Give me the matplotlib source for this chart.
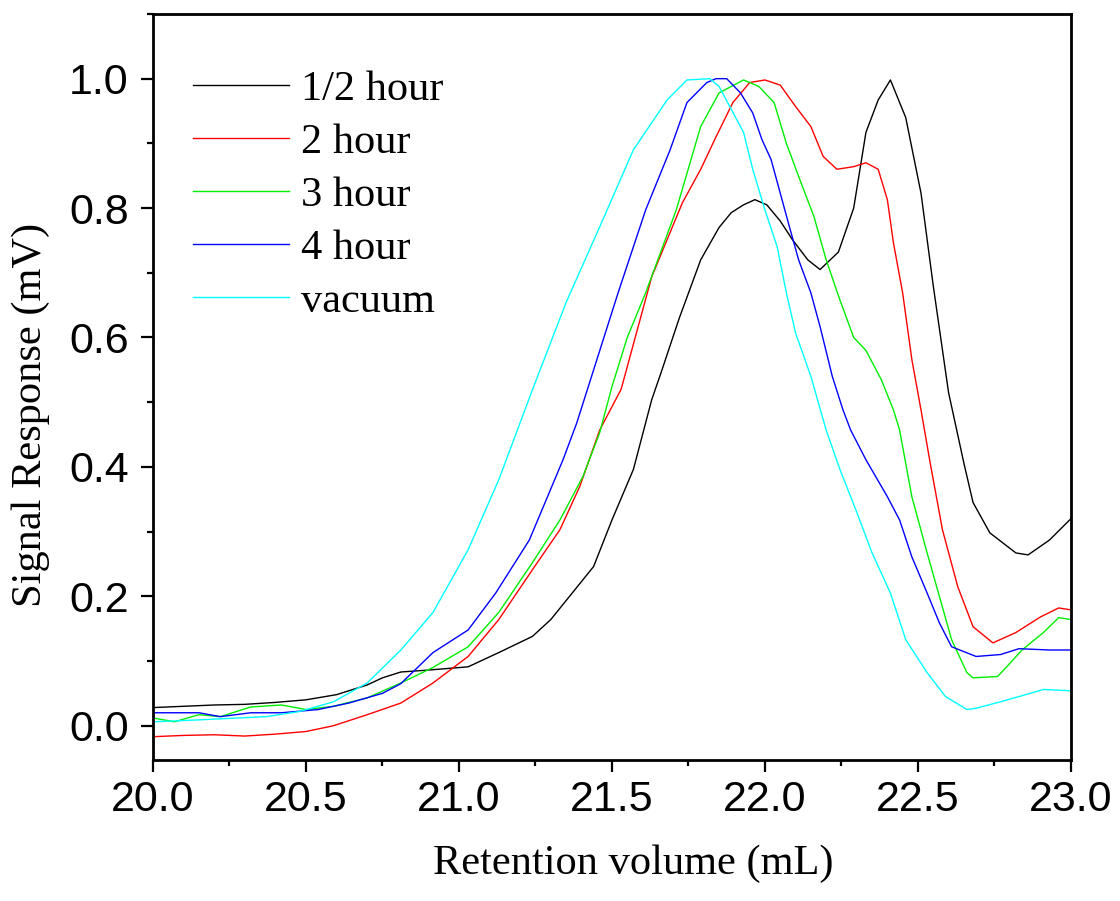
import matplotlib
matplotlib.use("Agg")
import matplotlib.pyplot as plt
from matplotlib.ticker import MultipleLocator

# GPC traces
x_half = [20.00, 20.10, 20.20, 20.30, 20.40, 20.50, 20.60, 20.70, 20.75, 20.81, 20.90, 21.03,
          21.13, 21.24, 21.30, 21.37, 21.44, 21.50, 21.57, 21.63, 21.66, 21.72, 21.79, 21.85,
          21.89, 21.93, 21.967, 22.006, 22.05, 22.09, 22.14, 22.18, 22.24, 22.29, 22.33, 22.37,
          22.41, 22.46, 22.51, 22.55, 22.60, 22.65, 22.68, 22.735, 22.82, 22.86, 22.93, 23.00]
y_half = [0.028, 0.030, 0.032, 0.033, 0.036, 0.040, 0.048, 0.063, 0.074, 0.083, 0.086, 0.091,
          0.113, 0.138, 0.164, 0.205, 0.246, 0.318, 0.396, 0.504, 0.545, 0.63, 0.72, 0.77,
          0.793, 0.805, 0.813, 0.805, 0.78, 0.751, 0.72, 0.705, 0.732, 0.80, 0.917, 0.967,
          0.998, 0.94, 0.823, 0.68, 0.515, 0.406, 0.345, 0.298, 0.267, 0.264, 0.287, 0.32]

x_2h = [20.00, 20.10, 20.20, 20.30, 20.40, 20.50, 20.59, 20.70, 20.81, 20.915, 21.03, 21.13,
        21.24, 21.33, 21.395, 21.46, 21.53, 21.63, 21.73, 21.79, 21.84, 21.895, 21.95, 22.00,
        22.05, 22.10, 22.15, 22.19, 22.235, 22.29, 22.33, 22.37, 22.40, 22.42, 22.45, 22.48,
        22.51, 22.54, 22.58, 22.63, 22.68, 22.745, 22.82, 22.90, 22.96, 23.00]
y_2h = [-0.017, -0.015, -0.014, -0.016, -0.013, -0.009, 0.000, 0.017, 0.035, 0.066, 0.107, 0.164,
        0.241, 0.303, 0.37, 0.457, 0.52, 0.694, 0.808, 0.86, 0.91, 0.963, 0.994, 0.998,
        0.99, 0.957, 0.926, 0.88, 0.86, 0.864, 0.87, 0.86, 0.813, 0.746, 0.669, 0.566,
        0.488, 0.406, 0.303, 0.215, 0.153, 0.128, 0.144, 0.168, 0.182, 0.179]

x_3h = [20.00, 20.07, 20.15, 20.22, 20.32, 20.42, 20.50, 20.59, 20.70, 20.81, 20.915, 21.03,
        21.13, 21.24, 21.33, 21.405, 21.46, 21.50, 21.55, 21.61, 21.71, 21.79, 21.85, 21.93,
        21.98, 22.03, 22.07, 22.11, 22.16, 22.20, 22.245, 22.29, 22.33, 22.38, 22.42, 22.44,
        22.48, 22.53, 22.57, 22.61, 22.66, 22.68, 22.76, 22.79, 22.84, 22.91, 22.96, 23.00]
y_3h = [0.012, 0.006, 0.017, 0.014, 0.029, 0.032, 0.025, 0.030, 0.043, 0.066, 0.090, 0.122,
        0.175, 0.252, 0.318, 0.385, 0.453, 0.524, 0.60, 0.669, 0.797, 0.926, 0.978, 0.998,
        0.988, 0.963, 0.90, 0.849, 0.787, 0.72, 0.658, 0.60, 0.58, 0.535, 0.488, 0.457,
        0.354, 0.267, 0.20, 0.133, 0.082, 0.074, 0.076, 0.091, 0.117, 0.144, 0.167, 0.164]

x_4h = [20.00, 20.05, 20.15, 20.22, 20.32, 20.42, 20.54, 20.64, 20.75, 20.81, 20.915, 21.03,
        21.12, 21.23, 21.34, 21.385, 21.43, 21.52, 21.61, 21.69, 21.745, 21.81, 21.84, 21.875,
        21.92, 21.96, 21.99, 22.02, 22.05, 22.08, 22.11, 22.15, 22.18, 22.22, 22.255, 22.28,
        22.33, 22.40, 22.44, 22.48, 22.53, 22.57, 22.61, 22.69, 22.77, 22.83, 22.93, 23.00]
y_4h = [0.020, 0.020, 0.020, 0.014, 0.020, 0.020, 0.025, 0.035, 0.050, 0.065, 0.113, 0.148,
        0.205, 0.287, 0.411, 0.468, 0.535, 0.669, 0.797, 0.89, 0.963, 0.994, 1.0, 1.0,
        0.978, 0.947, 0.906, 0.875, 0.823, 0.771, 0.72, 0.669, 0.617, 0.54, 0.488, 0.457,
        0.411, 0.354, 0.318, 0.261, 0.205, 0.159, 0.122, 0.107, 0.110, 0.119, 0.117, 0.117]

x_vac = [20.00, 20.15, 20.37, 20.48, 20.59, 20.70, 20.81, 20.915, 21.03, 21.13, 21.24, 21.35,
         21.46, 21.57, 21.68, 21.745, 21.82, 21.85, 21.885, 21.93, 21.96, 22.00, 22.04, 22.07,
         22.10, 22.15, 22.20, 22.245, 22.30, 22.35, 22.41, 22.46, 22.53, 22.59, 22.66, 22.69,
         22.77, 22.83, 22.91, 23.00]
y_vac = [0.006, 0.009, 0.014, 0.022, 0.037, 0.066, 0.117, 0.175, 0.272, 0.38, 0.519, 0.654,
         0.771, 0.89, 0.967, 0.998, 1.0, 0.988, 0.957, 0.917, 0.86, 0.797, 0.74, 0.669,
         0.607, 0.54, 0.457, 0.396, 0.33, 0.267, 0.205, 0.133, 0.082, 0.045, 0.025, 0.027,
         0.037, 0.045, 0.056, 0.054]

labels = ["1/2 hour", "2 hour", "3 hour", "4 hour", "vacuum"]
colors = ["#000000", "#ff0000", "#00ee00", "#0000ff", "#00ffff"]

serif = "Liberation Serif"
sans = "Liberation Sans"

fig = plt.figure(figsize=(11.2, 9.01), dpi=100)
ax = fig.add_axes([0.1366, 0.1565, 0.8196, 0.828])

series = [(x_half, y_half), (x_2h, y_2h), (x_3h, y_3h), (x_4h, y_4h), (x_vac, y_vac)]
for (xs, ys), lab, c in zip(series, labels, colors):
    ax.plot(xs, ys, color=c, linewidth=1.0, label=lab)

ax.set_xlim(20.0, 23.0)
ax.set_ylim(-0.053, 1.10)
ax.xaxis.set_major_locator(MultipleLocator(0.5))
ax.xaxis.set_minor_locator(MultipleLocator(0.25))
ax.yaxis.set_major_locator(MultipleLocator(0.2))
ax.yaxis.set_minor_locator(MultipleLocator(0.1))
ax.xaxis.set_major_formatter(plt.FormatStrFormatter("%.1f"))
ax.yaxis.set_major_formatter(plt.FormatStrFormatter("%.1f"))

ax.tick_params(which="major", direction="out", length=8.5, width=1.6)
ax.tick_params(axis="x", which="major", pad=6)
ax.tick_params(axis="y", which="major", pad=9)
ax.tick_params(which="minor", direction="out", length=4.5, width=1.6)
ax.tick_params(top=False, right=False, which="both")
for lbl in ax.get_xticklabels() + ax.get_yticklabels():
    lbl.set_fontfamily(sans)
    lbl.set_fontsize(31)
for sp in ax.spines.values():
    sp.set_linewidth(2.0)

ax.set_xlabel("Retention volume (mL)", fontfamily=serif, fontsize=30.5)
ax.set_ylabel("Signal Response (mV)", fontfamily=serif, fontsize=30.5)
ax.xaxis.set_label_coords(0.523, -0.113)
ax.yaxis.set_label_coords(-0.112, 0.4625)

ax.legend(loc="upper left", bbox_to_anchor=(0.044, 0.925), frameon=False,
          prop={"family": serif, "size": 30.5}, handlelength=2.25, handletextpad=0.3,
          labelspacing=0.34, borderpad=0, borderaxespad=0)

plt.savefig("out.png", dpi=100)
